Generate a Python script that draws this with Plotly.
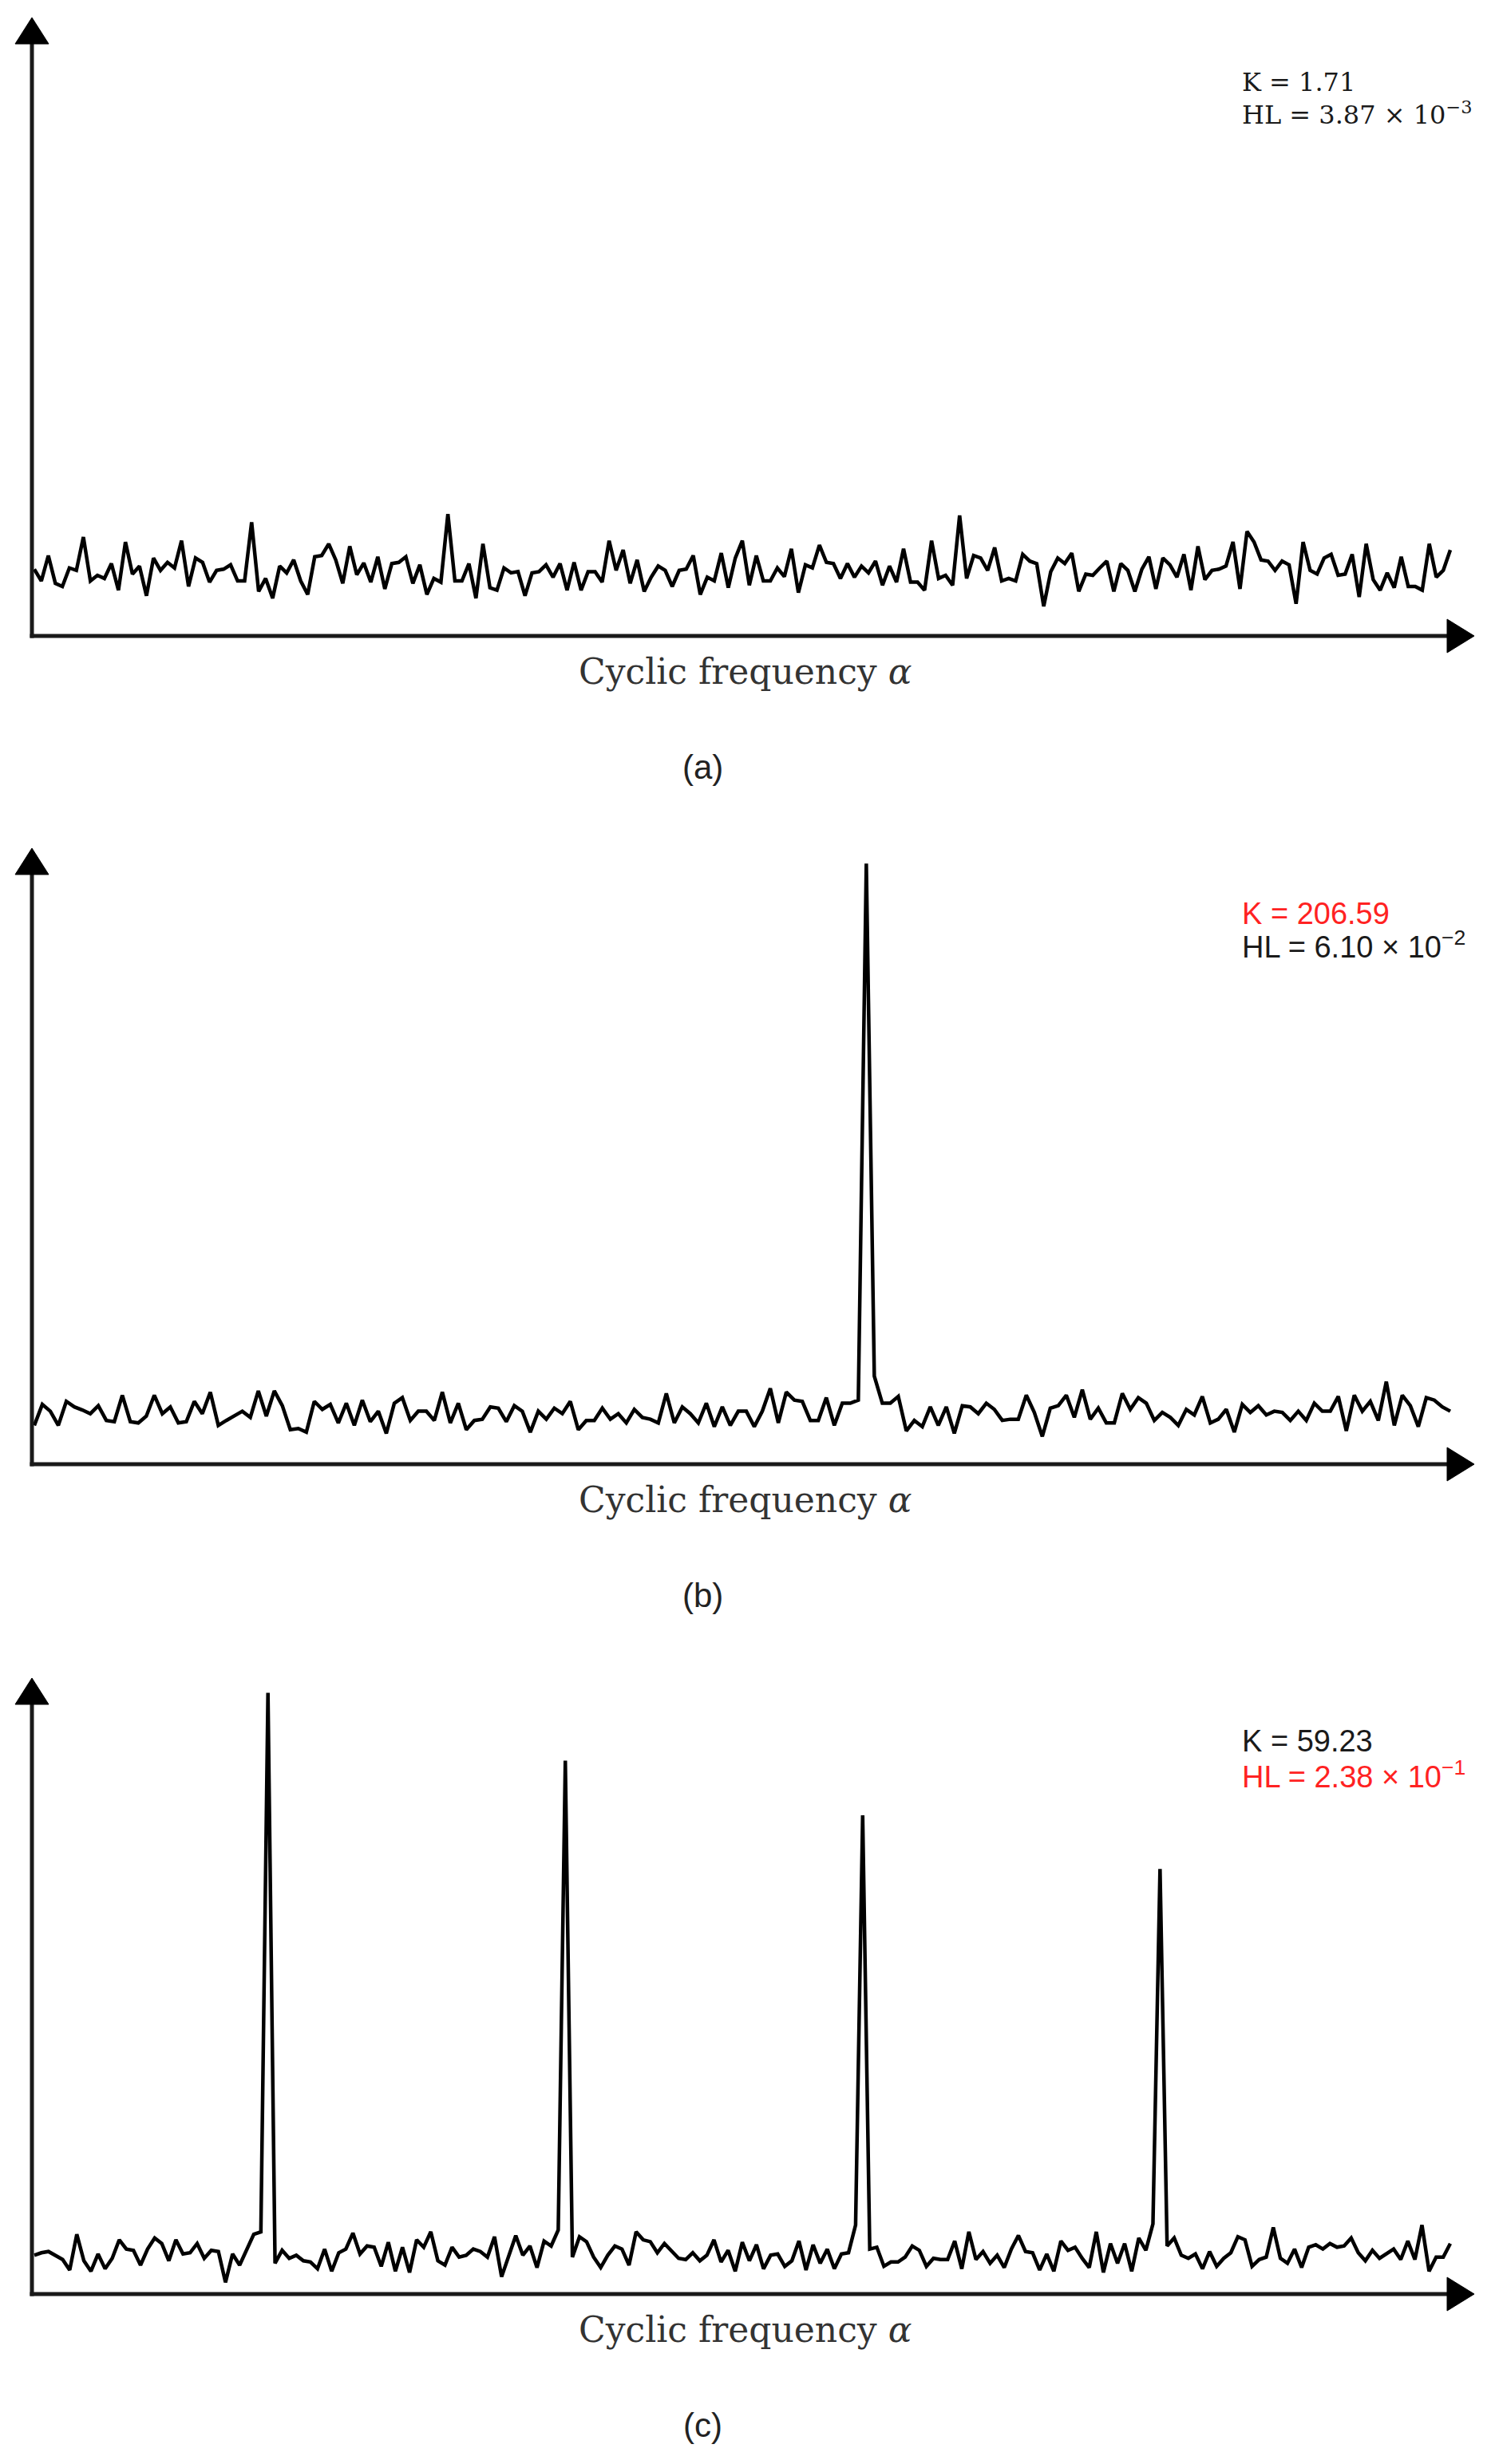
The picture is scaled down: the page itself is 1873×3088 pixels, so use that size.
import plotly.graph_objects as go

# ---------------- data (amplitude, arbitrary units; 1000 = top of y axis) ----------------
spectrum_a = [
    108, 89, 130, 85, 80, 110, 106, 160, 89, 98,
    93, 117, 74, 152, 100, 113, 65, 126, 106, 119,
    110, 154, 80, 126, 119, 87, 106, 108, 115, 89,
    89, 184, 72, 93, 61, 113, 102, 123, 89, 67,
    128, 130, 149, 123, 85, 145, 99, 118, 87, 128, 76, 117,
    119, 128, 85, 115, 67, 93, 87, 197, 89, 89,
    117, 61, 149, 78, 74, 110, 102, 104, 65, 102,
    104, 115, 95, 117, 74, 119, 74, 104, 104, 87,
    154, 106, 139, 85, 123, 72, 95, 113, 106, 80,
    106, 108, 130, 67, 95, 89, 134, 78, 126, 154,
    82, 130, 89, 89, 110, 96, 141, 70, 115, 110, 147, 119,
    117, 93, 117, 95, 113, 102, 121, 82, 113, 87,
    141, 87, 87, 74, 154, 93, 98, 82, 195, 93,
    130, 126, 106, 143, 89, 93, 89, 132, 121, 117,
    48, 104, 126, 117, 134, 72, 100, 98, 110, 121,
    72, 117, 106, 72, 108, 128, 76, 126, 115, 95,
    132, 74, 145, 91, 106, 108, 113, 152, 76, 169,
    152, 123, 121, 106, 121, 115, 52, 152, 106, 100,
    126, 132, 98, 100, 132, 63, 149, 91, 74, 102,
    78, 128, 80, 80, 74, 149, 95, 106, 139,
]

spectrum_b = [
    63, 97, 86, 63, 102, 93, 88, 82, 95, 71,
    69, 112, 69, 67, 78, 112, 82, 93, 67, 69,
    102, 82, 117, 63, 71, 78, 86, 76, 119, 78,
    119, 95, 56, 58, 52, 102, 89, 97, 67, 99,
    63, 104, 69, 86, 50, 99, 108, 71, 86, 86,
    71, 117, 67, 99, 56, 71, 73, 93, 91, 69,
    95, 86, 52, 86, 73, 91, 82, 102, 56, 71,
    71, 91, 73, 82, 67, 89, 76, 73, 67, 115,
    67, 93, 82, 67, 99, 61, 93, 63, 86,
    86, 61, 86, 123, 67, 117, 104, 102, 71, 71, 108, 63, 99, 99, 104,
    975,
    143, 99, 99, 110, 54, 71, 61, 93, 63, 93,
    50, 95, 93, 82, 99, 89, 71, 73, 73, 112,
    84, 45, 91, 95, 112, 76, 121, 73, 91, 67,
    67, 115, 89, 108, 99, 71, 84, 76, 63, 89,
    80, 110, 67, 73, 89, 52, 97, 84, 95, 80,
    86, 84, 71, 86, 71, 99, 86, 86, 110, 54,
    112, 86, 102, 71, 134, 63, 112, 95, 61, 108,
    104, 93, 86,
]

spectrum_c = [
    63, 67, 69, 63, 56, 39, 97, 54, 37, 65,
    41, 58, 88, 73, 71, 47, 73, 91, 82, 54,
    88, 65, 67, 82, 58, 71, 69, 19, 65, 47,
    73, 97, 101,
    976,
    50, 71, 58, 63, 54, 52, 41, 73, 37, 67,
    73, 99, 65, 78, 76, 45, 84, 37, 76, 35,
    88, 76, 101, 54, 47, 76, 60, 63, 73, 69,
    60, 93, 28, 63, 95, 63, 78, 43, 86, 78,
    104,
    866,
    60, 93, 85, 60, 43, 63, 78, 73, 47, 101,
    88, 85, 67, 82, 71, 58, 56, 67, 54, 63,
    88, 52, 71, 37, 84, 54, 80, 41, 63, 65,
    45, 54, 86, 39, 80, 50, 73, 41, 65, 67,
    112,
    777,
    73, 76, 45, 52, 52, 60, 78, 71, 45, 58,
    56, 56, 86, 41, 101, 56, 69, 50, 63, 43,
    73, 95, 69, 67, 39, 65, 37, 86, 71, 76,
    58, 43, 101, 35, 82, 50, 82, 37, 91, 71,
    114,
    690,
    78, 91, 63, 58, 65, 41, 69, 45, 58, 67,
    93, 88, 45, 56, 60, 108, 58, 50, 73, 43,
    76, 80, 73, 82, 76, 78, 91, 67, 54, 71,
    58, 65, 73, 56, 86, 56, 112, 37, 60, 60,
    82,
]

x_title = "Cyclic frequency <i>α</i>"
panel_tags = ["(a)", "(b)", "(c)"]
k_texts = ["K = 1.71", "K = 206.59", "K = 59.23"]
hl_texts = ["HL = 3.87 × 10<sup>−3</sup>",
            "HL = 6.10 × 10<sup>−2</sup>",
            "HL = 2.38 × 10<sup>−1</sup>"]

# ---------------- layout geometry (page pixels) ----------------
PAGE_W, PAGE_H = 1873, 3088
OFF = 8                                  # default body margin of the html page
W, H = PAGE_W - 2 * OFF, PAGE_H - 2 * OFF

DARK = "#1a1a1a"
RED = "#ff2222"
AX_X = 40          # y-axis line position
TIP_X = 1847       # x-axis arrow tip
DATA_X0, DATA_X1 = 43, 1817
layout_cfg = [
    dict(vals=spectrum_a, axis_y=797, tip_y=22, k_y=103, hl_y=142,
         k_col=DARK, hl_col=DARK, tfont="DejaVu Serif", tsize=32),
    dict(vals=spectrum_b, axis_y=1835, tip_y=1063, k_y=1145, hl_y=1184,
         k_col=RED, hl_col=DARK, tfont="Liberation Sans", tsize=38),
    dict(vals=spectrum_c, axis_y=2875, tip_y=2103, k_y=2182, hl_y=2224,
         k_col=DARK, hl_col=RED, tfont="Liberation Sans", tsize=38),
]


def px(x):
    return (x - OFF) / W


def py(y):
    return 1 - (y - OFF) / H


fig = go.Figure()
shapes, annotations = [], []

for i, cfg in enumerate(layout_cfg):
    vals = cfg["vals"]
    n = len(vals)
    step = (DATA_X1 - DATA_X0) / (n - 1)
    r0 = -(DATA_X0 - AX_X) / step
    r1 = (n - 1) + (TIP_X - DATA_X1) / step
    xa = "x" if i == 0 else f"x{i+1}"
    ya = "y" if i == 0 else f"y{i+1}"
    fig.add_trace(go.Scatter(
        x=list(range(n)), y=vals, mode="lines",
        line=dict(color="black", width=4.5),
        xaxis=xa, yaxis=ya, showlegend=False, hoverinfo="skip",
    ))
    axis_common = dict(visible=False, showgrid=False, zeroline=False, fixedrange=True)
    fig.layout[("xaxis" if i == 0 else f"xaxis{i+1}")] = dict(
        domain=[px(AX_X), px(TIP_X)], range=[r0, r1], anchor=ya, **axis_common)
    fig.layout[("yaxis" if i == 0 else f"yaxis{i+1}")] = dict(
        domain=[py(cfg["axis_y"]), py(cfg["tip_y"])], range=[0, 1000], anchor=xa, **axis_common)

    ay, ty = cfg["axis_y"], cfg["tip_y"]
    # axis lines
    shapes.append(dict(type="line", xref="paper", yref="paper",
                       x0=px(AX_X - 2.5), x1=px(TIP_X - 30), y0=py(ay), y1=py(ay),
                       line=dict(color=DARK, width=5)))
    shapes.append(dict(type="line", xref="paper", yref="paper",
                       x0=px(AX_X), x1=px(AX_X), y0=py(ay + 2.5), y1=py(ty + 28),
                       line=dict(color=DARK, width=5)))
    # arrow heads
    shapes.append(dict(type="path", xref="paper", yref="paper",
                       path=f"M {px(TIP_X-34)},{py(ay-21)} L {px(TIP_X)},{py(ay)} L {px(TIP_X-34)},{py(ay+21)} Z",
                       fillcolor="black", line=dict(color="black", width=1)))
    shapes.append(dict(type="path", xref="paper", yref="paper",
                       path=f"M {px(AX_X-21)},{py(ty+33)} L {px(AX_X)},{py(ty)} L {px(AX_X+21)},{py(ty+33)} Z",
                       fillcolor="black", line=dict(color="black", width=1)))

    # axis title
    annotations.append(dict(text=x_title, xref="paper", yref="paper",
                            x=px(933), y=py(ay + 44), xanchor="center", yanchor="middle",
                            showarrow=False,
                            font=dict(family="DejaVu Serif", size=44, color="#333333")))
    # panel tag
    annotations.append(dict(text=panel_tags[i], xref="paper", yref="paper",
                            x=px(880), y=py(ay + 164), xanchor="center", yanchor="middle",
                            showarrow=False,
                            font=dict(family="Liberation Sans", size=42, color="#222222")))
    # K and HL text
    annotations.append(dict(text=k_texts[i], xref="paper", yref="paper",
                            x=px(1554), y=py(cfg["k_y"]), xanchor="left", yanchor="middle",
                            showarrow=False,
                            font=dict(family=cfg["tfont"], size=cfg["tsize"], color=cfg["k_col"])))
    annotations.append(dict(text=hl_texts[i], xref="paper", yref="paper",
                            x=px(1554), y=py(cfg["hl_y"]), xanchor="left", yanchor="middle",
                            showarrow=False,
                            font=dict(family=cfg["tfont"], size=cfg["tsize"], color=cfg["hl_col"])))

fig.update_layout(
    width=W, height=H,
    margin=dict(l=0, r=0, t=0, b=0),
    paper_bgcolor="white", plot_bgcolor="white",
    shapes=shapes, annotations=annotations,
    showlegend=False,
)

fig.write_html("out.html")
